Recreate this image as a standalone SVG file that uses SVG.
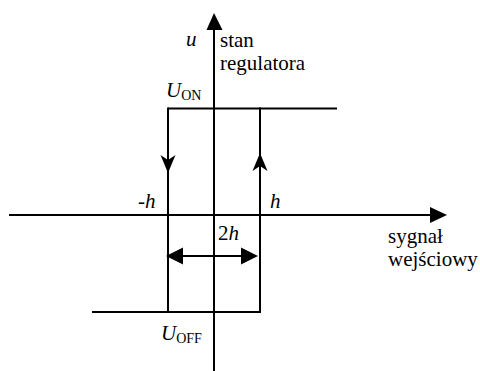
<svg xmlns="http://www.w3.org/2000/svg" width="480" height="371" viewBox="0 0 480 371">
<style>
.ln{stroke:#000;stroke-width:2;fill:none}
.ah{fill:#000;stroke:none}
.it{font-style:italic}
</style>
<rect width="480" height="371" fill="#fff"/>
<g id="connectors">
<line class="ln" x1="214" y1="28" x2="214" y2="371"/>
<polygon class="ah" points="214,13 206.5,30 222.5,30"/>
<line class="ln" x1="9" y1="215" x2="432" y2="215"/>
<polygon class="ah" points="447,215 430,207 430,223"/>
</g>
<g id="hysteresis">
<line class="ln" x1="168" y1="108.5" x2="337" y2="108.5"/>
<line class="ln" x1="92" y1="312" x2="261" y2="312"/>
<line class="ln" x1="168" y1="107.5" x2="168" y2="313"/>
<line class="ln" x1="260" y1="107.5" x2="260" y2="313"/>
<polygon class="ah" points="168,173 160.5,155 168,160 175.5,155"/>
<polygon class="ah" points="260,153 252.5,171 260,166 267.5,171"/>
</g>
<g id="width-2h">
<line class="ln" x1="180" y1="256" x2="244" y2="256"/>
<polygon class="ah" points="166,256 183,247.5 183,264.5"/>
<polygon class="ah" points="258,256 241,247.5 241,264.5"/>
</g>
<g id="labels" font-family="'Liberation Serif', 'Times New Roman', serif" font-size="21" fill="#000">
<text class="it" x="186" y="46">u</text>
<text x="220" y="47">stan</text>
<text x="220" y="70">regulatora</text>
<text x="166" y="97"><tspan class="it">U</tspan><tspan font-size="14" dy="3">ON</tspan></text>
<text x="161" y="340"><tspan class="it">U</tspan><tspan font-size="14" dy="3">OFF</tspan></text>
<text class="it" x="138" y="208">-h</text>
<text class="it" x="270" y="208">h</text>
<text x="218" y="240">2<tspan class="it">h</tspan></text>
<text x="388" y="243">sygnał</text>
<text x="388" y="266">wejściowy</text>
</g>
</svg>
